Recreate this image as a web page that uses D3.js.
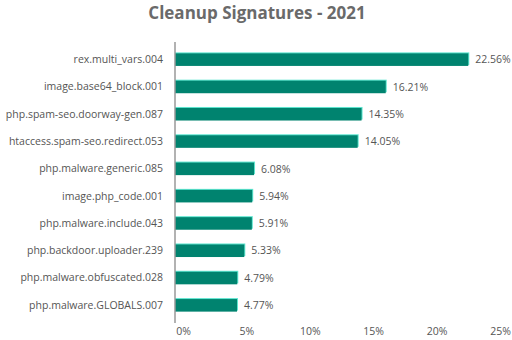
<!DOCTYPE html>
<html><head><meta charset="utf-8">
<script src="https://cdn.jsdelivr.net/npm/d3@7"></script>
<style>
html,body{margin:0;padding:0;background:#fff;}
svg{display:block;}
</style></head>
<body>
<svg id="chart" width="512" height="340"></svg>
<script>
const categories = [
  "rex.multi_vars.004",
  "image.base64_block.001",
  "php.spam-seo.doorway-gen.087",
  "htaccess.spam-seo.redirect.053",
  "php.malware.generic.085",
  "image.php_code.001",
  "php.malware.include.043",
  "php.backdoor.uploader.239",
  "php.malware.obfuscated.028",
  "php.malware.GLOBALS.007"
];
const values = [22.56, 16.21, 14.35, 14.05, 6.08, 5.94, 5.91, 5.33, 4.79, 4.77];
const tickValues = [0, 5, 10, 15, 20, 25];
const title = "Cleanup Signatures - 2021";

const svg = d3.select("#chart");
const font = "'Open Sans', sans-serif";
const x = d3.scaleLinear().domain([0, 25]).range([175, 500]);
const xLabel = d3.scaleLinear().domain([0, 25]).range([183, 500]);
const y = d3.scaleBand().domain(categories).range([46, 319]).paddingInner(0.54).paddingOuter(0.27);

svg.append("text")
  .attr("x", 257).attr("y", 19)
  .attr("text-anchor", "middle")
  .attr("font-family", font).attr("font-weight", 700)
  .attr("font-size", 17).attr("fill", "#6a6a6a")
  .text(title);

const data = categories.map((c, i) => ({c, v: values[i]}));

svg.append("g").selectAll("rect").data(data).join("rect")
  .attr("x", x(0)).attr("y", d => y(d.c) - 1)
  .attr("width", d => x(d.v) - x(0) + 1)
  .attr("height", y.bandwidth())
  .attr("fill", "#5fe6d0");

svg.append("g").selectAll("rect").data(data).join("rect")
  .attr("x", x(0)).attr("y", d => y(d.c))
  .attr("width", d => x(d.v) - x(0))
  .attr("height", y.bandwidth())
  .attr("fill", "#00836f");

svg.append("g").selectAll("text").data(data).join("text")
  .attr("x", d => x(d.v) + 7)
  .attr("y", d => y(d.c) + y.bandwidth() / 2)
  .attr("dy", "0.35em")
  .attr("font-family", font).attr("font-size", 10.5).attr("fill", "#555")
  .text(d => d.v.toFixed(2) + "%");

const yAxis = svg.append("g").attr("transform", `translate(${x(0)},0)`)
  .call(d3.axisLeft(y).tickSize(0).tickPadding(12));
yAxis.select(".domain").remove();
yAxis.selectAll("text").attr("font-family", font).attr("font-size", 10.5).attr("fill", "#555");
svg.append("line")
  .attr("x1", x(0)).attr("x2", x(0))
  .attr("y1", 42).attr("y2", 323)
  .attr("stroke", "#999").attr("stroke-width", 1.5);

const xAxis = svg.append("g").attr("transform", "translate(0,328)")
  .call(d3.axisBottom(xLabel).tickValues(tickValues).tickSize(0).tickPadding(0)
    .tickFormat(d => d + "%"));
xAxis.select(".domain").remove();
xAxis.selectAll("text").attr("font-family", font).attr("font-size", 10.5).attr("fill", "#555").attr("dy", "0.71em");
</script>
</body></html>
